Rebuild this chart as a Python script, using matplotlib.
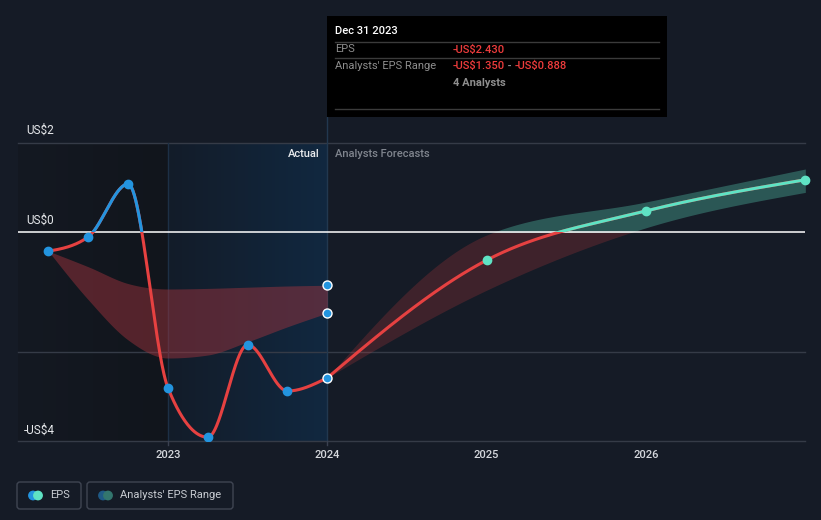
import numpy as np
import matplotlib
matplotlib.use("Agg")
import matplotlib.pyplot as plt
from matplotlib.patches import Rectangle, FancyBboxPatch, Circle
from matplotlib.colors import LinearSegmentedColormap

plt.rcParams['font.family'] = ['Roboto', 'DejaVu Sans']

# ---- data ----
past_x = [2022.25, 2022.5, 2022.75, 2023.0, 2023.25, 2023.5, 2023.75, 2024.0]
past_eps = [-0.32, -0.08, 0.80, -2.60, -3.42, -1.88, -2.65, -2.43]

past_range_hi = [-0.32, -0.58, -0.86, -0.95, -0.94, -0.92, -0.90, -0.888]
past_range_lo = [-0.32, -1.13, -1.80, -2.10, -2.05, -1.83, -1.58, -1.350]

fc_x = [2024.0, 2025.0, 2026.0, 2027.0]
fc_eps = [-2.43, -0.47, 0.35, 0.87]
fc_hi = [-2.43, -0.05, 0.50, 1.05]
fc_lo = [-2.43, -0.97, 0.07, 0.66]

year_ticks = [2023, 2024, 2025, 2026]
y_labels = ["US$2", "US$0", "-US$4"]

BG = '#151b26'
BLUE = '#2394df'
RED = '#e64141'
TEAL = '#5fe3c4'


def monotone(x, y, n=60):
    # cubic hermite with monotone tangents, used only to draw smooth curves
    x = np.asarray(x, float)
    y = np.asarray(y, float)
    h = np.diff(x)
    s = np.diff(y) / h
    m = np.zeros_like(y)
    for k in range(1, len(x) - 1):
        if s[k - 1] * s[k] <= 0:
            m[k] = 0.0
        else:
            p = (s[k - 1] * h[k] + s[k] * h[k - 1]) / (h[k - 1] + h[k])
            m[k] = (np.sign(s[k - 1]) + np.sign(s[k])) * min(abs(s[k - 1]), abs(s[k]), 0.5 * abs(p))
    m[0] = (3 * s[0] - m[1]) / 2
    m[-1] = (3 * s[-1] - m[-2]) / 2
    xs, ys = [], []
    for k in range(len(x) - 1):
        t = np.linspace(0, 1, n)
        h00 = 2 * t**3 - 3 * t**2 + 1
        h10 = t**3 - 2 * t**2 + t
        h01 = -2 * t**3 + 3 * t**2
        h11 = t**3 - t**2
        xs.append(x[k] + t * h[k])
        ys.append(h00 * y[k] + h10 * h[k] * m[k] + h01 * y[k + 1] + h11 * h[k] * m[k + 1])
    return np.concatenate(xs), np.concatenate(ys)


fig = plt.figure(figsize=(8.21, 5.2), dpi=100)
fig.patch.set_facecolor(BG)

# main axes: pixel box x 18..805, y 143..441
ax = fig.add_axes([18 / 821, (520 - 441) / 520, (805 - 18) / 821, (441 - 143) / 520])
ax.set_facecolor(BG)
x0, x1 = 2022.0586, 2026.998
y0, y1 = -3.483, 1.483
ax.set_xlim(x0, x1)
ax.set_ylim(y0, y1)
for sp in ax.spines.values():
    sp.set_visible(False)
ax.set_xticks([])
ax.set_yticks([])

# background shading
grad = np.linspace(0, 1, 256).reshape(1, -1)
left_cmap = LinearSegmentedColormap.from_list('l', ['#141922', '#11151c'])
ax.imshow(grad, extent=[x0, 2023.0, y0, y1], aspect='auto', cmap=left_cmap, zorder=0)
act_cmap = LinearSegmentedColormap.from_list('a', ['#131c29', '#112840'])
ax.imshow(grad, extent=[2023.0, 2024.0, y0, y1], aspect='auto', cmap=act_cmap, zorder=0)
ax.set_xlim(x0, x1)
ax.set_ylim(y0, y1)

# grid lines
for yv in [y1, -2.0, y0]:
    ax.axhline(yv, color='#353b47', lw=1, zorder=1, clip_on=False)
ax.axhline(0, color='white', lw=1.1, zorder=3)
ax.axvline(2023.0, color='#1d3046', lw=1, zorder=1)
ax.plot([2024.0, 2024.0], [y0, 1.483 + (143 - 117) / 60], color='#22384f', lw=1, zorder=1, clip_on=False)

# past analyst range band
bx, bhi = monotone(past_x, past_range_hi)
_, blo = monotone(past_x, past_range_lo)
ax.fill_between(bx, blo, bhi, color='#a8353f', alpha=0.45, lw=0, zorder=2)

# forecast range band: red below zero, teal above zero
fx, fhi = monotone(fc_x, fc_hi)
_, flo = monotone(fc_x, fc_lo)
below = ax.fill_between(fx, flo, fhi, color=RED, alpha=0.2, lw=0, zorder=2)
below.set_clip_path(Rectangle((x0, y0), x1 - x0, -y0, transform=ax.transData))
above = ax.fill_between(fx, flo, fhi, color=TEAL, alpha=0.3, lw=0, zorder=2)
above.set_clip_path(Rectangle((x0, 0), x1 - x0, y1 + 1, transform=ax.transData))

# EPS lines
ex, ey = monotone(past_x, past_eps)
ax.plot(ex, ey, color=RED, lw=2.2, zorder=4, solid_capstyle='round')
pos = ax.plot(ex, ey, color=BLUE, lw=2.2, zorder=4, solid_capstyle='round')[0]
pos.set_clip_path(Rectangle((x0, 0), x1 - x0, y1 + 1, transform=ax.transData))

gx, gy = monotone(fc_x, fc_eps)
ax.plot(gx, gy, color=RED, lw=2.2, zorder=4)
tl = ax.plot(gx, gy, color=TEAL, lw=2.2, zorder=4)[0]
tl.set_clip_path(Rectangle((x0, 0), x1 - x0, y1 + 1, transform=ax.transData))

# markers
ax.plot(past_x[:-1], past_eps[:-1], 'o', color=BLUE, ms=6, mec=BLUE, zorder=5)
ax.plot([past_x[-1]] * 3, [past_eps[-1], past_range_hi[-1], past_range_lo[-1]], 'o',
        color=BLUE, ms=6.5, mec='white', mew=1, zorder=5, clip_on=False)
ax.plot(fc_x[1:], fc_eps[1:], 'o', color=TEAL, ms=6, mec=TEAL, zorder=5, clip_on=False)

# labels inside the chart
ax.text(2024.0 - 8 / 159.3, y1 - 11 / 60, 'Actual', color='#e8eaed', fontsize=8,
        fontweight='medium', ha='right', va='center', zorder=6)
ax.text(2024.0 + 8 / 159.3, y1 - 11 / 60, 'Analysts Forecasts', color='#80858e', fontsize=8,
        fontweight='medium', ha='left', va='center', zorder=6)

# overlay in pixel coords for text, tooltip and legend
ov = fig.add_axes([0, 0, 1, 1])
ov.set_xlim(0, 821)
ov.set_ylim(520, 0)
ov.axis('off')
ov.patch.set_alpha(0)

for lab, py in zip(y_labels, [130, 220, 430]):
    ov.text(26 if not lab.startswith('-') else 24, py, lab, color='#e6e8eb', fontsize=8.5,
            ha='left', va='center')

for yr in year_ticks:
    px = 168 + (yr - 2023) * 159.33
    ov.text(px, 455, str(yr), color='#d5d8dd', fontsize=8, fontweight='medium',
            ha='center', va='center')
for px in [168, 327]:
    ov.plot([px, px], [441, 445], color='#3a4050', lw=1)

# tooltip
ov.add_patch(Rectangle((327, 16), 340, 101, facecolor='black', edgecolor='none', zorder=10))
for ly in [41.5, 58.3, 109]:
    ov.plot([335, 659], [ly, ly], color='#3b3b3b', lw=1, zorder=11)
ov.text(335, 31, 'Dec 31 2023', color='white', fontsize=8, fontweight='medium',
        va='center', zorder=12)
ov.text(335, 49.5, 'EPS', color='#8e8e8e', fontsize=8, va='center', zorder=12)
ov.text(453, 49.5, '-US$2.430', color='#ee3c3c', fontsize=8, fontweight='medium',
        va='center', zorder=12)
ov.text(335, 66, "Analysts' EPS Range", color='#8e8e8e', fontsize=8, va='center', zorder=12)
ov.text(453, 83, '4 Analysts', color='#8e8e8e', fontsize=8, fontweight='bold',
        va='center', zorder=12)
parts = [('-US$1.350', '#ee3c3c'), (' - ', '#8e8e8e'), ('-US$0.888', '#ee3c3c')]
fig.canvas.draw()
cx = 453
for txt, col in parts:
    t = ov.text(cx, 66, txt, color=col, fontsize=8, fontweight='medium', va='center', zorder=12)
    fig.canvas.draw()
    bb = t.get_window_extent()
    cx = bb.x1

# legend
ov.add_patch(FancyBboxPatch((17, 482), 64, 27, boxstyle='round,pad=0,rounding_size=3',
                            facecolor='none', edgecolor='#3f4552', lw=1))
ov.add_patch(FancyBboxPatch((87, 482), 146, 27, boxstyle='round,pad=0,rounding_size=3',
                            facecolor='none', edgecolor='#3f4552', lw=1))
ov.add_patch(Circle((33, 495.5), 4.2, color=BLUE))
ov.add_patch(Circle((38, 495.5), 4.2, color=TEAL))
ov.add_patch(Circle((103, 495.5), 4.2, color='#1f5a86'))
ov.add_patch(Circle((108, 495.5), 4.2, color='#33766e'))
ov.text(50, 495.5, 'EPS', color='#c8ccd2', fontsize=8, va='center')
ov.text(120, 495.5, "Analysts' EPS Range", color='#c8ccd2', fontsize=8, va='center')

fig.savefig('out.png', dpi=100, facecolor=BG)
